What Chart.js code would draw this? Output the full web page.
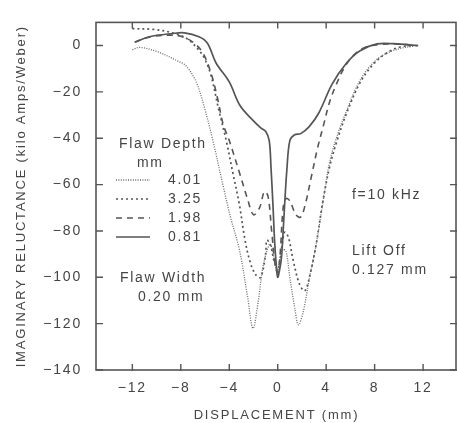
<!DOCTYPE html>
<html>
<head>
<meta charset="utf-8">
<script src="https://cdn.jsdelivr.net/npm/chart.js@4/dist/chart.umd.min.js"></script>
<style>
  html, body { margin: 0; padding: 0; background: #ffffff; }
  #wrap { width: 457px; height: 423px; position: relative; }
</style>
</head>
<body>
<div id="wrap"><canvas id="chart" width="457" height="423"></canvas></div>
<script>
const X_TICKS = [-12, -8, -4, 0, 4, 8, 12];
const Y_TICKS = [-140, -120, -100, -80, -60, -40, -20, 0];

const DEPTH_LABELS = ["4.01", "3.25", "1.98", "0.81"];

// flaw depth 4.01 mm
const X_401 = [-12, -11.4, -10, -8.25, -7.56, -6.73, -6.04, -5.35, -4.53, -3.9, -3.15, -2.5, -2.04, -1.6, -1.2, -0.66, -0.45, -0.2, 0, 0.2, 0.45, 0.7, 1.0, 1.4, 1.7, 2.1, 2.65, 3.1, 3.48, 3.9, 4.3, 4.9, 5.7, 6.5, 7.3, 8.3, 9.3, 10.3, 11.2];
const Y_401 = [-1.8, -0.8, -2.5, -6.7, -8.8, -15.7, -27, -41, -60, -74, -88.4, -108, -122, -110, -95, -85.5, -88, -95, -97, -92, -88, -89, -100, -113, -120.5, -115, -99.5, -88, -76, -62, -50, -39, -28, -18, -11, -5.5, -2.6, -1, -0.3];

// flaw depth 3.25 mm
const X_325 = [-12, -10.3, -8.7, -7.5, -6.5, -6, -5.5, -4.9, -4.25, -3.7, -3.15, -2.73, -2.3, -1.8, -1.4, -1.0, -0.9, -0.6, -0.3, 0, 0.2, 0.45, 0.6, 0.9, 1.27, 1.8, 2.24, 2.7, 3.2, 3.7, 4.3, 4.9, 5.7, 6.8, 7.9, 9.0, 10.1, 11.2];
const Y_325 = [7.3, 7, 5.5, 3, -2, -6, -13, -27, -41, -55, -69, -83, -93, -99, -100, -90, -84, -86, -93, -97, -92, -83, -80.5, -83, -92.5, -103, -105.8, -98, -85, -68, -52, -41, -29, -16, -8, -3.2, -0.6, 0];

// flaw depth 1.98 mm
const X_198 = [-11.8, -10.5, -9, -8, -7, -6.2, -5.5, -5, -4.5, -4, -3.15, -2.5, -2.0, -1.5, -1.1, -0.8, -0.5, -0.2, 0, 0.2, 0.45, 0.7, 1.0, 1.5, 1.9, 2.3, 2.8, 3.3, 3.8, 4.3, 4.9, 5.5, 6.3, 7.2, 8.4, 9.8, 11.5];
const Y_198 = [1.5, 3.8, 4.5, 4, 1.5, -3, -12, -22, -34, -41, -55, -66, -73, -70, -63, -65, -80, -95, -98, -90, -70, -66, -67, -73, -74, -68, -56, -44, -34, -24, -16, -9.5, -4, -0.8, 0.5, 0.7, 0];

// flaw depth 0.81 mm
const X_081 = [-11.8, -10.6, -8.7, -7.7, -6.5, -5.8, -5.1, -4.0, -3.1, -2.0, -1.4, -1.0, -0.7, -0.55, -0.4, -0.25, -0.1, 0, 0.15, 0.3, 0.45, 0.6, 0.75, 1.0, 1.4, 1.9, 2.6, 3.4, 4.5, 5.7, 6.8, 8.2, 9.6, 11.6];
const Y_081 = [1.4, 3.8, 5.2, 5.5, 3.8, 1.0, -7.4, -15.7, -26, -32.5, -35.5, -37, -41, -53, -68, -85, -96, -100, -97, -92, -80, -66, -54, -41, -38.5, -38, -35, -29, -16.5, -7.4, -2.2, 0.7, 0.8, 0];

const INK = "#454545";
const LINE = "#555555";
const FONT = "'Liberation Sans', Arial, sans-serif";

function points(xs, ys) {
  return xs.map((x, i) => ({ x, y: ys[i] }));
}

function minusLabel(v) {
  return v < 0 ? "\u2212" + Math.abs(v) : String(v);
}

const series = [
  { label: DEPTH_LABELS[0], data: points(X_401, Y_401), borderDash: [1, 1.4], borderWidth: 1.3, borderColor: "#6a6a6a" },
  { label: DEPTH_LABELS[1], data: points(X_325, Y_325), borderDash: [2, 3], borderWidth: 1.7, borderColor: LINE },
  { label: DEPTH_LABELS[2], data: points(X_198, Y_198), borderDash: [6, 5], borderWidth: 1.6, borderColor: LINE },
  { label: DEPTH_LABELS[3], data: points(X_081, Y_081), borderDash: [], borderWidth: 1.7, borderColor: LINE },
];

const framePlugin = {
  id: "frame",
  beforeDraw(chart) {
    chart.ctx.letterSpacing = "1.8px";
  },
  afterDraw(chart) {
    const { ctx, chartArea: a, scales } = chart;
    ctx.save();
    ctx.strokeStyle = LINE;
    ctx.lineWidth = 1.6;
    ctx.strokeRect(a.left, a.top, a.right - a.left - 1, a.bottom - a.top);
    ctx.lineWidth = 1.4;
    ctx.beginPath();
    Y_TICKS.forEach((v) => {
      const y = scales.y.getPixelForValue(v);
      ctx.moveTo(a.left, y); ctx.lineTo(a.left + 7, y);
      ctx.moveTo(a.right - 7, y); ctx.lineTo(a.right, y);
    });
    X_TICKS.forEach((v) => {
      const x = scales.x.getPixelForValue(v);
      ctx.moveTo(x, a.bottom + 1); ctx.lineTo(x, a.bottom - 6);
      ctx.moveTo(x, a.top); ctx.lineTo(x, a.top + 6);
    });
    ctx.stroke();

    // legend and notes
    ctx.fillStyle = INK;
    ctx.font = "14px " + FONT;
    ctx.letterSpacing = "1.7px";
    ctx.textBaseline = "middle";
    ctx.textAlign = "left";
    ctx.fillText("Flaw Depth", 119, 144);
    ctx.fillText("mm", 137, 163);
    const rows = [180, 199, 218, 237];
    chart.data.datasets.forEach((ds, i) => {
      ctx.save();
      ctx.strokeStyle = ds.borderColor;
      ctx.lineWidth = ds.borderWidth;
      ctx.setLineDash(ds.borderDash);
      ctx.beginPath();
      ctx.moveTo(116, rows[i]);
      ctx.lineTo(150, rows[i]);
      ctx.stroke();
      ctx.restore();
      ctx.fillText(ds.label, 168, rows[i]);
    });
    ctx.fillText("Flaw Width", 120, 278);
    ctx.fillText("0.20 mm", 138, 297);
    ctx.fillText("f=10 kHz", 352, 195);
    ctx.fillText("Lift Off", 352, 251);
    ctx.fillText("0.127 mm", 352, 270);
    ctx.restore();
  },
};

Chart.defaults.font.family = FONT;
Chart.defaults.font.size = 13;
Chart.defaults.color = INK;

new Chart(document.getElementById("chart"), {
  type: "line",
  data: {
    datasets: series.map((s) => ({
      ...s,
      fill: false,
      pointRadius: 0,
      tension: 0.35,
      borderCapStyle: "butt",
    })),
  },
  options: {
    responsive: false,
    animation: false,
    events: [],
    layout: { padding: { top: 13, right: 0, left: 0, bottom: 0 } },
    plugins: { legend: { display: false }, tooltip: { enabled: false } },
    scales: {
      x: {
        type: "linear",
        min: -15,
        max: 14.8,
        grid: { display: false, drawTicks: false },
        border: { display: false },
        afterBuildTicks: (scale) => { scale.ticks = X_TICKS.map((v) => ({ value: v })); },
        afterFit: (scale) => { scale.height = 53; },
        ticks: { padding: 10, maxRotation: 0, autoSkip: false, callback: minusLabel, font: { size: 14 } },
        title: { display: true, text: "DISPLACEMENT (mm)", padding: { top: 0, bottom: 0 } },
      },
      y: {
        type: "linear",
        min: -140,
        max: 10,
        grid: { display: false, drawTicks: false },
        border: { display: false },
        afterBuildTicks: (scale) => { scale.ticks = Y_TICKS.map((v) => ({ value: v })); },
        afterFit: (scale) => { scale.width = 96; },
        ticks: { padding: 14, autoSkip: false, callback: minusLabel, font: { size: 14 } },
        title: { display: true, text: "IMAGINARY RELUCTANCE (kilo Amps/Weber)", padding: { top: 14, bottom: 14 } },
      },
    },
  },
  plugins: [framePlugin],
});
</script>
</body>
</html>
